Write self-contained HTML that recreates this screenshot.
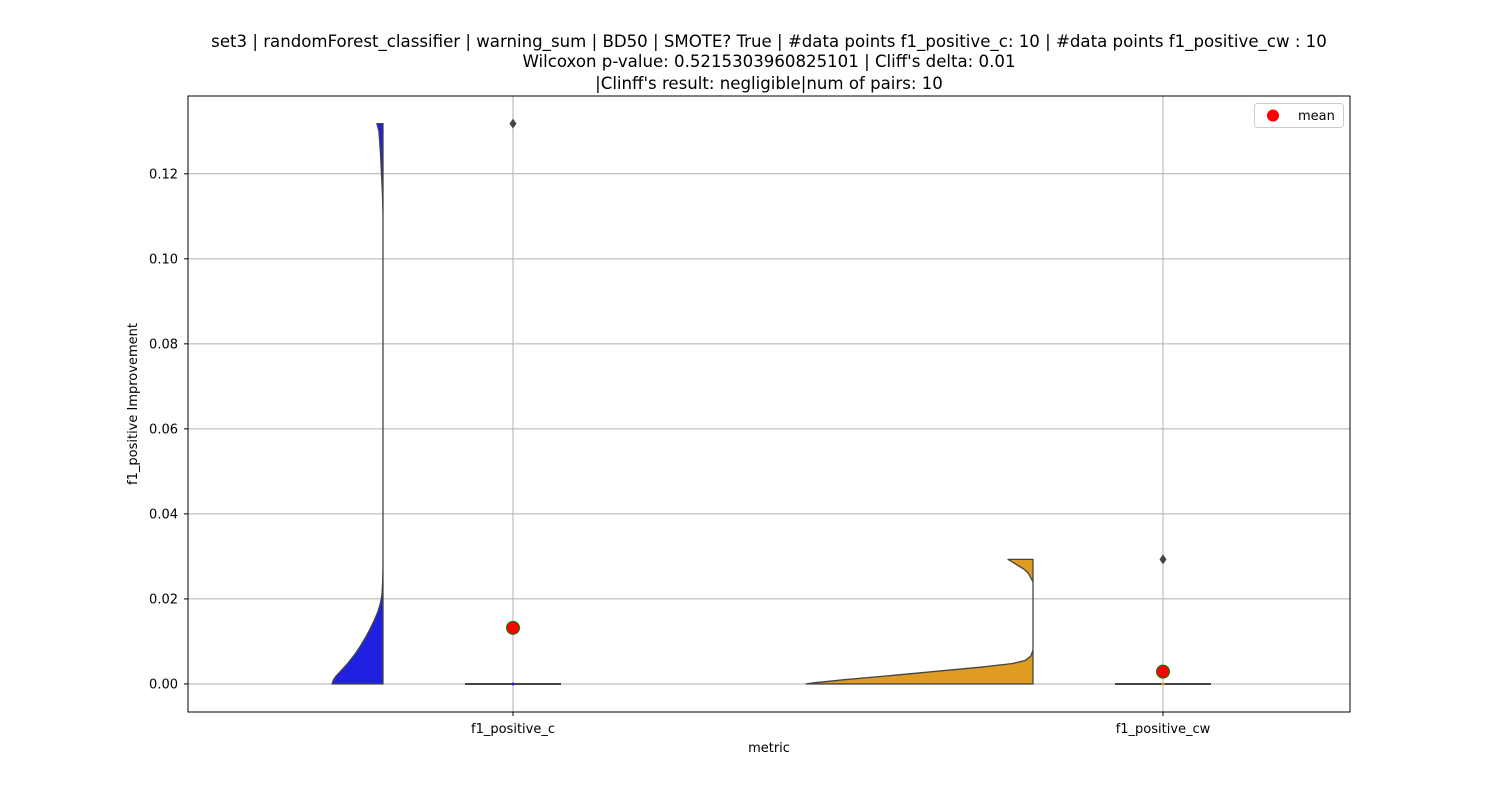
<!DOCTYPE html>
<html><head><meta charset="utf-8"><style>
body{margin:0;background:#fff;}
svg{display:block;font-family:"DejaVu Sans","Liberation Sans",sans-serif;}
</style></head><body>
<svg id="chart" width="1500" height="800" viewBox="0 0 1500 800">
<text x="769" y="47" text-anchor="middle" font-size="16.6">set3 | randomForest_classifier | warning_sum | BD50 | SMOTE? True | #data points f1_positive_c: 10 | #data points f1_positive_cw : 10</text>
<text x="769" y="67" text-anchor="middle" font-size="16.6">Wilcoxon p-value: 0.5215303960825101 | Cliff's delta: 0.01</text>
<text x="769" y="89" text-anchor="middle" font-size="16.6">|Clinff's result: negligible|num of pairs: 10</text>
<g id="grid"></g>
<g id="marks"></g>
<rect x="188" y="96" width="1162" height="616" fill="none" stroke="#000" stroke-width="1"/>
<g id="ticks"></g>
<text x="769" y="752" text-anchor="middle" font-size="13">metric</text>
<text transform="translate(137,404) rotate(-90)" text-anchor="middle" font-size="13">f1_positive Improvement</text>
<g>
<rect x="1254.5" y="103.5" width="89" height="24" rx="3" fill="#fff" stroke="#ccc"/>
<circle cx="1273" cy="115.5" r="6" fill="red"/>
<text x="1298" y="120" font-size="13">mean</text>
</g>
</svg>
<script>
const categories = ["f1_positive_c", "f1_positive_cw"];
const yTicks = [0, 0.02, 0.04, 0.06, 0.08, 0.10, 0.12];
const yTickLabels = ["0.00","0.02","0.04","0.06","0.08","0.10","0.12"];
const means = [0.0132, 0.0029];
const outliers = [0.1318, 0.0293];
const medians = [0, 0];
const colors = ["#2020e0", "#e09c22"];
// violin density profiles (value, relative half-width 0..1)
const violinC_Y = [0, 0.001, 0.002, 0.003, 0.005, 0.007, 0.009, 0.011, 0.013, 0.015, 0.017, 0.019, 0.021, 0.024, 0.027, 0.03, 0.11, 0.115, 0.12, 0.125, 0.13, 0.1318];
const violinC_W = [1, 0.97, 0.91, 0.83, 0.68, 0.55, 0.44, 0.34, 0.25, 0.17, 0.1, 0.05, 0.02, 0.007, 0.002, 0, 0, 0.01, 0.03, 0.05, 0.08, 0.12];
const violinCW_Y = [0, 0.0003, 0.001, 0.002, 0.003, 0.004, 0.0048, 0.0055, 0.0065, 0.008, 0.024, 0.025, 0.026, 0.027, 0.028, 0.029, 0.0293];
const violinCW_W = [1, 0.96, 0.83, 0.62, 0.42, 0.22, 0.09, 0.035, 0.01, 0, 0, 0.01, 0.02, 0.04, 0.07, 0.1, 0.11];
const NS = "http://www.w3.org/2000/svg";
const X0=188, X1=1350, Y0=96, Y1=712;
const yMin=-0.0066, yMax=0.1383;
function yScale(v){return Y1-(v-yMin)/(yMax-yMin)*(Y1-Y0);}
function xScale(i){return 513+i*650/(categories.length-1);}
const violinMax=[51,227];
const violinOffset=130;
function mk(tag,attrs,parent){const e=document.createElementNS(NS,tag);for(const k in attrs)e.setAttribute(k,attrs[k]);parent.appendChild(e);return e;}
const grid=document.getElementById('grid'), marks=document.getElementById('marks'), ticks=document.getElementById('ticks');
yTicks.forEach((t,i)=>{const y=yScale(t);
 const g=mk('line',{x1:X0,x2:X1,y1:y,y2:y,stroke:'#b0b0b0','stroke-width':1},grid);
 
 
 const tk=mk('line',{x1:X0-4,x2:X0,y1:y,y2:y,stroke:'#000'},ticks);
 
 
 const tx=mk('text',{x:X0-10,y:y+4.5,'text-anchor':'end','font-size':13},ticks);
 tx.textContent=yTickLabels[i];
 
 
});
categories.forEach((c,i)=>{const x=xScale(i);
 const g=mk('line',{x1:x,x2:x,y1:Y0,y2:Y1,stroke:'#b0b0b0','stroke-width':1},grid);
 
 
 const tk=mk('line',{x1:x,x2:x,y1:Y1,y2:Y1+4,stroke:'#000'},ticks);
 
 
 const tx=mk('text',{x:x,y:Y1+21,'text-anchor':'middle','font-size':13},ticks);
 tx.textContent=c;
 
 
});
const vY=[violinC_Y,violinCW_Y], vW=[violinC_W,violinCW_W];
categories.forEach((c,i)=>{
 const xr=xScale(i)-violinOffset;
 let d='M'+xr+','+yScale(vY[i][0]);
 vY[i].forEach((v,j)=>{d+=' L'+(xr-vW[i][j]*violinMax[i])+','+yScale(v);});
 d+=' L'+xr+','+yScale(vY[i][vY[i].length-1])+' Z';
 const p=mk('path',{d:d,fill:colors[i],stroke:'#444','stroke-width':1.3,'stroke-linejoin':'round'},marks);
 
 
 const x=xScale(i);
 const b=mk('line',{x1:x-48,x2:x+48,y1:yScale(medians[i]),y2:yScale(medians[i]),stroke:'#444','stroke-width':2},marks);
 
 
 const md=mk('circle',{cx:x,cy:yScale(medians[i]),r:1.5,fill:colors[i]},marks);
 
 
 const oy=yScale(outliers[i]);
 const o=mk('path',{d:`M${x},${oy-5} L${x+3.5},${oy} L${x},${oy+5} L${x-3.5},${oy} Z`,fill:'#444'},marks);
 
 
 const m=mk('circle',{cx:x,cy:yScale(means[i]),r:6.5,fill:'red',stroke:'green','stroke-width':1},marks);
 
 
});
</script>
</body></html>
